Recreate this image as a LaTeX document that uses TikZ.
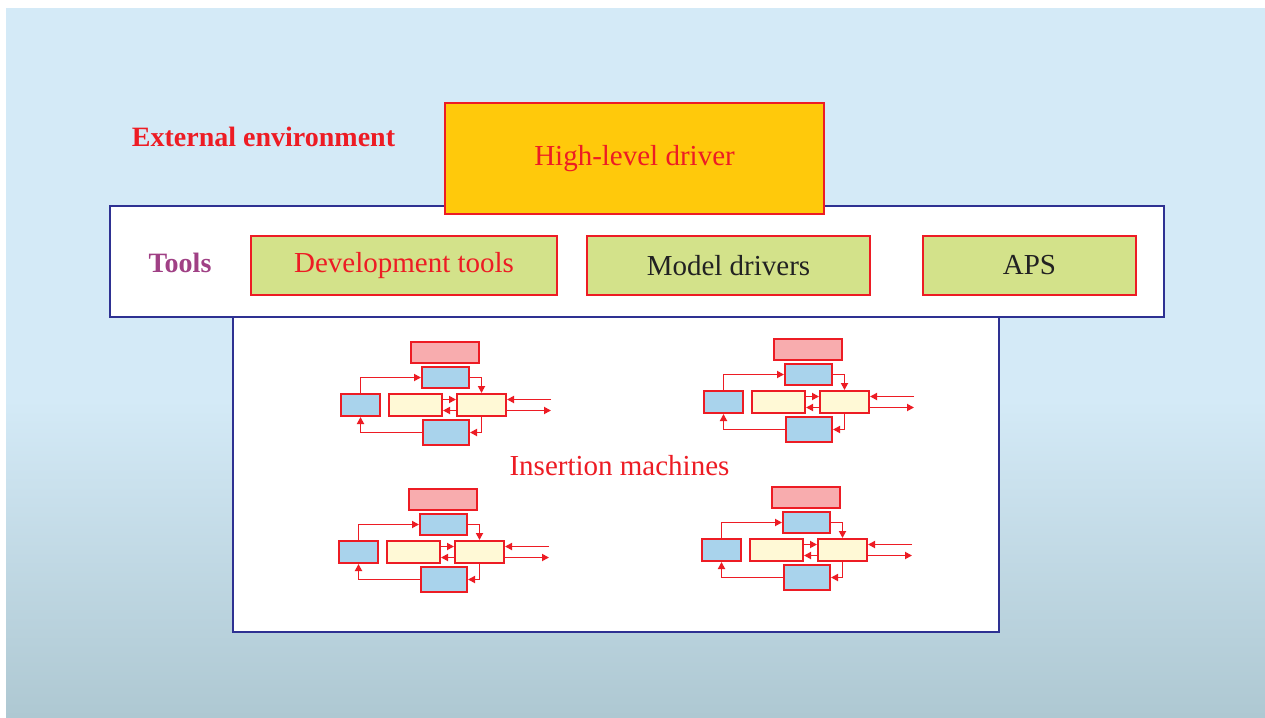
\documentclass[tikz,border=0pt]{standalone}
\usepackage{fontspec}
\setmainfont{Liberation Serif}
\usetikzlibrary{arrows.meta}
\definecolor{myred}{RGB}{237,28,36}
\definecolor{navy}{RGB}{46,49,146}
\definecolor{toolpurple}{RGB}{160,64,133}
\definecolor{bgtop}{RGB}{212,234,247}
\definecolor{bgbot}{RGB}{174,200,210}
\definecolor{hlyellow}{RGB}{255,201,11}
\definecolor{toolgreen}{RGB}{211,226,138}
\definecolor{mpink}{RGB}{248,172,174}
\definecolor{mblue}{RGB}{169,211,236}
\definecolor{myellow}{RGB}{255,249,214}
\definecolor{darktext}{RGB}{34,34,34}
\tikzset{
  bigbox/.style={draw=navy, line width=2.5pt, fill=white, inner sep=0pt},
  redbox/.style={draw=myred, line width=2.5pt, inner sep=0pt, font=\fontsize{29}{34}\selectfont},
  mbox/.style={draw=myred, line width=2pt, inner sep=0pt},
  mline/.style={draw=myred, line width=1.8pt},
  marr/.style={mline, -{Triangle[length=7pt,width=7pt]}},
  plaintext/.style={inner sep=0pt, font=\fontsize{29}{34}\selectfont},
  boldtext/.style={inner sep=0pt, font=\fontsize{28}{33}\selectfont\bfseries}
}
\begin{document}
\begin{tikzpicture}[x=1pt,y=-1pt]
\useasboundingbox (0,0) rectangle (1265,717);
\fill[white] (0,0) rectangle (1265,717);
\fill[bgtop] (6,8) rectangle (1265,400);
\shade[top color=bgtop, bottom color=bgbot] (6,399.5) rectangle (1265,717);

% big boxes
\node[bigbox, minimum width=1054pt, minimum height=111pt] (toolsbox) at (637,261.5) {};
\node[bigbox, minimum width=766pt, minimum height=315pt] (machbox) at (616,474.5) {};
\node[redbox, fill=hlyellow, text=myred, minimum width=379pt, minimum height=111pt] (hld) at (634.5,158.5) {High-level driver};

% labels
\node[boldtext, text=myred] (ext) at (263.5,137) {External environment};
\node[boldtext, text=toolpurple] (tools) at (180,263) {Tools};
\node[plaintext, text=myred] (ins) at (619.5,466) {Insertion machines};

% tool boxes
\node[redbox, fill=toolgreen, text=myred, minimum width=306pt, minimum height=59pt] (dev) at (404,265.5) {Development tools};
\node[redbox, fill=toolgreen, text=darktext, minimum width=283pt, minimum height=59pt] (model) at (728.5,265.5) {Model drivers};
\node[redbox, fill=toolgreen, text=darktext, minimum width=213pt, minimum height=59pt] (aps) at (1029.5,265.5) {APS};

% machines
\foreach \n/\dx/\dy in {a/0/0, b/363/-3, c/-2/147, d/361/145}{
  \begin{scope}[shift={(\dx,\dy)}]
    \node[mbox, fill=mpink, minimum width=68pt, minimum height=21pt] (\n P) at (445,352.5) {};
    \node[mbox, fill=mblue, minimum width=47pt, minimum height=21pt] (\n T) at (445.5,377.5) {};
    \node[mbox, fill=mblue, minimum width=39pt, minimum height=22pt] (\n L) at (360.5,405) {};
    \node[mbox, fill=myellow, minimum width=53pt, minimum height=22pt] (\n YL) at (415.5,405) {};
    \node[mbox, fill=myellow, minimum width=49pt, minimum height=22pt] (\n YR) at (481.5,405) {};
    \node[mbox, fill=mblue, minimum width=46pt, minimum height=25pt] (\n B) at (446,432.5) {};
    \coordinate (\n in) at (551,399.5);
    \coordinate (\n out) at (551,410.5);
    \draw[marr] (\n L.north) |- (\n T.west);
    \draw[marr] (\n T.east) -| (\n YR.north);
    \draw[marr] ([yshift=5.5pt]\n YL.east) -- ([yshift=5.5pt]\n YR.west);
    \draw[marr] ([yshift=-5.5pt]\n YR.west) -- ([yshift=-5.5pt]\n YL.east);
    \draw[marr] (\n in) -- ([yshift=5.5pt]\n YR.east);
    \draw[marr] ([yshift=-5.5pt]\n YR.east) -- (\n out);
    \draw[marr] (\n YR.south) |- (\n B.east);
    \draw[marr] (\n B.west) -| (\n L.south);
  \end{scope}
}
\end{tikzpicture}
\end{document}
